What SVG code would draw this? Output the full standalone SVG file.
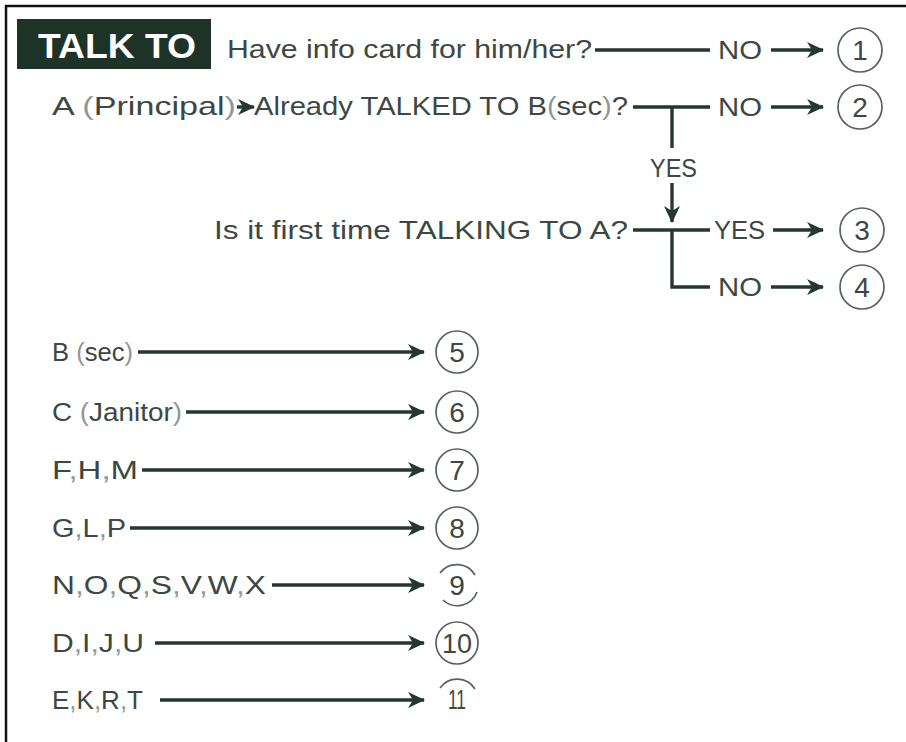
<svg xmlns="http://www.w3.org/2000/svg" width="906" height="742" viewBox="0 0 906 742">
  <style>
    .t { font-family: "Liberation Sans", "DejaVu Sans", sans-serif; font-size: 26px; fill: #3c4843; }
    .p { fill: #8f9894; }
    .ln { stroke: #25382f; stroke-width: 3.4; fill: none; }
    .c { stroke: #5a625e; stroke-width: 1.7; fill: #fff; }
    .n { font-family: "Liberation Sans", "DejaVu Sans", sans-serif; font-size: 28px; fill: #3c4843; text-anchor: middle; }
  </style>
  <defs>
    <marker id="ah" markerWidth="20" markerHeight="20" viewBox="0 0 20 20" refX="18" refY="10" orient="auto" markerUnits="userSpaceOnUse">
      <path d="M2,2 L19,10 L2,18 L7,10 Z" fill="#25382f"/>
    </marker>
  </defs>
  <rect width="906" height="742" fill="#fff"/>

  <!-- page frame -->
  <path d="M6,742 V6 H906" stroke="#111" stroke-width="2.5" fill="none"/>

  <!-- title tab -->
  <g id="title">
    <rect x="17" y="19" width="194" height="50" fill="#1e3328"/>
    <text x="38" y="58" font-family="Liberation Sans, DejaVu Sans, sans-serif" font-size="35" font-weight="bold" fill="#fff" textLength="158" lengthAdjust="spacingAndGlyphs">TALK TO</text>
  </g>

  <!-- questions and labels -->
  <g id="q-info"><text class="t" x="227" y="58" textLength="365" lengthAdjust="spacingAndGlyphs">Have info card for him/her?</text></g>
  <g id="q-principal"><text class="t" x="52" y="115" textLength="184" lengthAdjust="spacingAndGlyphs">A <tspan class="p">(</tspan>Principal<tspan class="p">)</tspan></text></g>
  <g id="q-talked"><text class="t" x="254" y="115" textLength="374" lengthAdjust="spacingAndGlyphs">Already TALKED TO B<tspan class="p">(</tspan>sec<tspan class="p">)</tspan>?</text></g>
  <g id="q-first"><text class="t" x="214" y="239" textLength="414" lengthAdjust="spacingAndGlyphs">Is it first time TALKING TO A?</text></g>

  <g id="lbl-no1"><text class="t" x="718" y="59" textLength="44" lengthAdjust="spacingAndGlyphs">NO</text></g>
  <g id="lbl-no2"><text class="t" x="718" y="116" textLength="44" lengthAdjust="spacingAndGlyphs">NO</text></g>
  <g id="lbl-yes1"><text class="t" x="650" y="177" textLength="47" lengthAdjust="spacingAndGlyphs">YES</text></g>
  <g id="lbl-yes2"><text class="t" x="714" y="239" textLength="51" lengthAdjust="spacingAndGlyphs">YES</text></g>
  <g id="lbl-no3"><text class="t" x="718" y="296" textLength="44" lengthAdjust="spacingAndGlyphs">NO</text></g>

  <g id="src-b"><text class="t" x="52" y="361" textLength="81" lengthAdjust="spacingAndGlyphs">B <tspan class="p">(</tspan>sec<tspan class="p">)</tspan></text></g>
  <g id="src-c"><text class="t" x="52" y="421" textLength="130" lengthAdjust="spacingAndGlyphs">C <tspan class="p">(</tspan>Janitor<tspan class="p">)</tspan></text></g>
  <g id="src-fhm"><text class="t" x="52" y="479" textLength="86" lengthAdjust="spacingAndGlyphs">F<tspan class="p">,</tspan>H<tspan class="p">,</tspan>M</text></g>
  <g id="src-glp"><text class="t" x="52" y="537" textLength="74" lengthAdjust="spacingAndGlyphs">G<tspan class="p">,</tspan>L<tspan class="p">,</tspan>P</text></g>
  <g id="src-noq"><text class="t" x="52" y="594" textLength="214" lengthAdjust="spacingAndGlyphs">N<tspan class="p">,</tspan>O<tspan class="p">,</tspan>Q<tspan class="p">,</tspan>S<tspan class="p">,</tspan>V<tspan class="p">,</tspan>W<tspan class="p">,</tspan>X</text></g>
  <g id="src-diju"><text class="t" x="52" y="652" textLength="92" lengthAdjust="spacingAndGlyphs">D<tspan class="p">,</tspan>I<tspan class="p">,</tspan>J<tspan class="p">,</tspan>U</text></g>
  <g id="src-ekrt"><text class="t" x="52" y="709" textLength="91" lengthAdjust="spacingAndGlyphs">E<tspan class="p">,</tspan>K<tspan class="p">,</tspan>R<tspan class="p">,</tspan>T</text></g>

  <!-- connectors -->
  <g id="connectors">
    <line class="ln" x1="595" y1="50" x2="710" y2="50"/>
    <line class="ln" x1="771" y1="50" x2="823" y2="50" marker-end="url(#ah)"/>

    <line class="ln" x1="237" y1="107" x2="254" y2="107" marker-end="url(#ah)"/>
    <line class="ln" x1="633" y1="107" x2="710" y2="107"/>
    <line class="ln" x1="672" y1="107" x2="672" y2="148"/>
    <line class="ln" x1="771" y1="107" x2="823" y2="107" marker-end="url(#ah)"/>

    <line class="ln" x1="672" y1="183" x2="672" y2="222" marker-end="url(#ah)"/>

    <line class="ln" x1="633" y1="230" x2="710" y2="230"/>
    <path class="ln" d="M672,230 V287 H710"/>
    <line class="ln" x1="773" y1="230" x2="823" y2="230" marker-end="url(#ah)"/>
    <line class="ln" x1="771" y1="287" x2="823" y2="287" marker-end="url(#ah)"/>

    <line class="ln" x1="138" y1="352" x2="424" y2="352" marker-end="url(#ah)"/>
    <line class="ln" x1="186" y1="412" x2="424" y2="412" marker-end="url(#ah)"/>
    <line class="ln" x1="142" y1="470" x2="424" y2="470" marker-end="url(#ah)"/>
    <line class="ln" x1="130" y1="528" x2="424" y2="528" marker-end="url(#ah)"/>
    <line class="ln" x1="272" y1="585" x2="424" y2="585" marker-end="url(#ah)"/>
    <line class="ln" x1="155" y1="643" x2="424" y2="643" marker-end="url(#ah)"/>
    <line class="ln" x1="160" y1="700" x2="424" y2="700" marker-end="url(#ah)"/>
  </g>

  <!-- outcome numbers -->
  <g id="out-1"><circle class="c" cx="860" cy="50" r="22"/><text class="n" x="860" y="60">1</text></g>
  <g id="out-2"><circle class="c" cx="860" cy="107" r="22"/><text class="n" x="860" y="117">2</text></g>
  <g id="out-3"><circle class="c" cx="862" cy="230" r="22"/><text class="n" x="862" y="240">3</text></g>
  <g id="out-4"><circle class="c" cx="862" cy="287" r="22"/><text class="n" x="862" y="297">4</text></g>
  <g id="out-5"><circle class="c" cx="457" cy="352" r="21"/><text class="n" x="457" y="362">5</text></g>
  <g id="out-6"><circle class="c" cx="457" cy="412" r="21"/><text class="n" x="457" y="422">6</text></g>
  <g id="out-7"><circle class="c" cx="457" cy="470" r="21"/><text class="n" x="457" y="480">7</text></g>
  <g id="out-8"><circle class="c" cx="457" cy="528" r="21"/><text class="n" x="457" y="538">8</text></g>
  <g id="out-9">
    <path class="c" fill="none" d="M440,573 A21,21 0 0 1 475,575"/>
    <path class="c" fill="none" d="M477,592 A21,21 0 0 1 443,600"/>
    <text class="n" x="457" y="595">9</text>
  </g>
  <g id="out-10"><circle class="c" cx="457" cy="643" r="21"/><text class="n" x="457" y="653" textLength="30" lengthAdjust="spacingAndGlyphs">10</text></g>
  <g id="out-11">
    <path class="c" fill="none" d="M440,688 A21,21 0 0 1 475,689"/>
    <text class="n" x="457" y="709" font-size="24" textLength="18" lengthAdjust="spacingAndGlyphs">11</text>
  </g>
</svg>
